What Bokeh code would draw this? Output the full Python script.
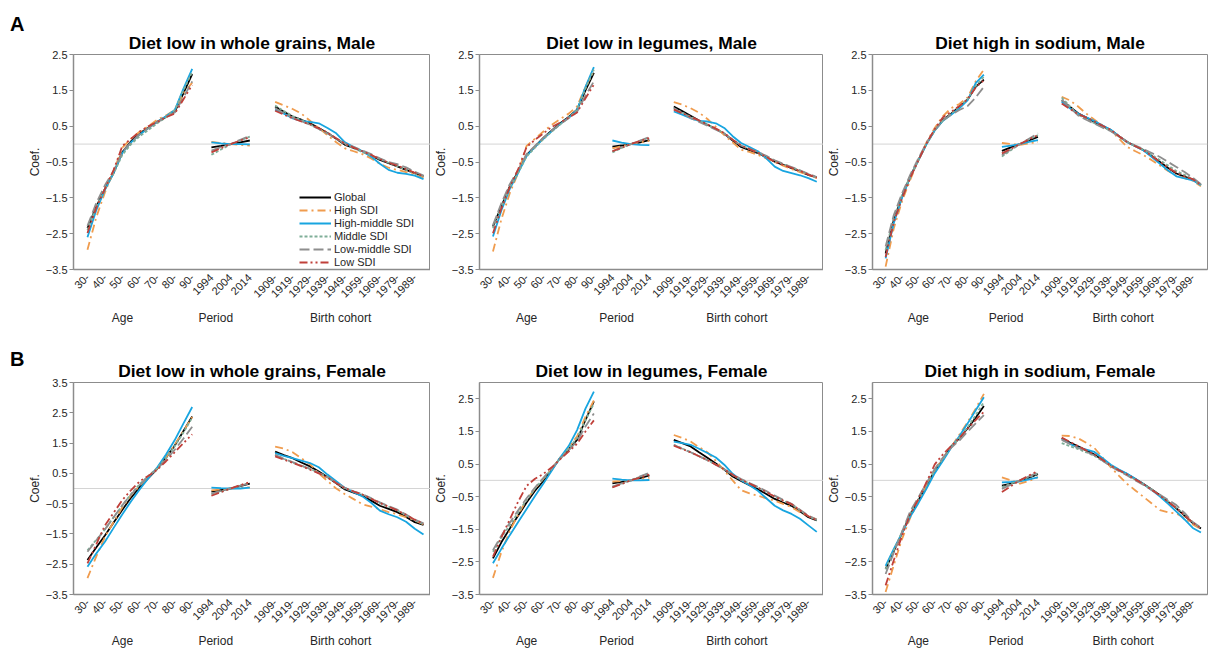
import math
from bokeh.plotting import figure
from bokeh.models import FixedTicker, Range1d, Span, Legend, LegendItem, LinearAxis, Div
from bokeh.layouts import column, row
from bokeh.embed import file_html
from bokeh.resources import INLINE

# ---------------- categories / tick labels ----------------
ages = [30, 35, 40, 45, 50, 55, 60, 65, 70, 75, 80, 85, 90]
age_labels = {30: "30-", 40: "40-", 50: "50-", 60: "60-", 70: "70-", 80: "80-", 90: "90-"}
periods = [1994, 1999, 2004, 2009, 2014]
period_labels = {1994: "1994", 2004: "2004", 2014: "2014"}
cohorts = [1909, 1914, 1919, 1924, 1929, 1934, 1939, 1944, 1949, 1954, 1959, 1964, 1969, 1974, 1979, 1984, 1989, 1994]
cohort_labels = {1909: "1909-", 1919: "1919-", 1929: "1929-", 1939: "1939-", 1949: "1949-",
                 1959: "1959-", 1969: "1969-", 1979: "1979-", 1989: "1989-"}
group_names = ["Age", "Period", "Birth cohort"]
series_names = ["Global", "High SDI", "High-middle SDI", "Middle SDI", "Low-middle SDI", "Low SDI"]

# ---------------- data: 13 age + 5 period + 18 cohort values per series ----------------
# Diet low in whole grains, Male
wg_m_global  = [-2.35,-1.75,-1.25,-0.80,-0.22,0.08,0.30,0.46,0.62,0.76,0.90,1.42,1.95, -0.09,-0.05,0.00,0.05,0.10, 1.05,0.90,0.77,0.68,0.58,0.45,0.31,0.15,-0.02,-0.11,-0.20,-0.32,-0.44,-0.53,-0.62,-0.72,-0.81,-0.90]
wg_m_high    = [-2.95,-2.05,-1.35,-0.75,-0.10,0.15,0.35,0.50,0.68,0.80,0.95,1.40,1.72, 0.06,0.03,0.00,-0.02,-0.04, 1.18,1.08,0.98,0.85,0.65,0.45,0.25,0.05,-0.12,-0.20,-0.28,-0.40,-0.55,-0.66,-0.72,-0.78,-0.85,-0.93]
wg_m_highmid = [-2.60,-1.85,-1.28,-0.80,-0.25,0.05,0.27,0.45,0.62,0.78,0.95,1.55,2.10, 0.05,0.02,0.00,0.00,-0.01, 0.96,0.85,0.72,0.65,0.62,0.58,0.45,0.30,0.05,-0.08,-0.20,-0.35,-0.55,-0.72,-0.80,-0.83,-0.88,-0.98]
wg_m_middle  = [-2.40,-1.75,-1.25,-0.82,-0.30,0.00,0.22,0.40,0.58,0.75,0.95,1.50,2.02, -0.30,-0.15,-0.01,0.10,0.21, 1.08,0.92,0.78,0.67,0.55,0.42,0.30,0.15,0.00,-0.12,-0.22,-0.32,-0.42,-0.52,-0.62,-0.72,-0.82,-0.92]
wg_m_lowmid  = [-2.28,-1.65,-1.15,-0.75,-0.22,0.05,0.28,0.45,0.62,0.75,0.88,1.30,1.75, -0.18,-0.08,0.00,0.12,0.23, 1.00,0.86,0.74,0.64,0.54,0.42,0.30,0.15,0.02,-0.08,-0.18,-0.28,-0.40,-0.50,-0.56,-0.65,-0.77,-0.88]
wg_m_low     = [-2.48,-1.78,-1.25,-0.72,-0.05,0.15,0.35,0.50,0.62,0.75,0.85,1.25,1.65, -0.23,-0.11,0.00,0.10,0.19, 0.93,0.82,0.72,0.63,0.55,0.44,0.32,0.16,0.01,-0.10,-0.20,-0.30,-0.42,-0.52,-0.60,-0.70,-0.80,-0.90]

# Diet low in legumes, Male
lg_m_global  = [-2.30,-1.74,-1.18,-0.76,-0.30,-0.07,0.17,0.38,0.58,0.76,0.96,1.50,1.99, -0.07,-0.04,0.00,0.05,0.11, 1.05,0.92,0.79,0.66,0.54,0.42,0.29,0.10,-0.08,-0.17,-0.25,-0.37,-0.49,-0.58,-0.67,-0.76,-0.86,-0.93]
lg_m_high    = [-3.00,-2.10,-1.37,-0.80,-0.05,0.15,0.35,0.54,0.70,0.85,1.05,1.60,2.03, -0.12,-0.06,0.00,0.05,0.09, 1.17,1.10,1.00,0.88,0.70,0.48,0.25,0.05,-0.16,-0.22,-0.30,-0.40,-0.50,-0.60,-0.70,-0.78,-0.86,-0.95]
lg_m_highmid = [-2.58,-1.85,-1.25,-0.80,-0.33,-0.08,0.15,0.36,0.56,0.74,0.95,1.60,2.15, 0.10,0.04,0.00,-0.02,-0.03, 0.91,0.82,0.72,0.65,0.63,0.58,0.45,0.22,0.03,-0.08,-0.20,-0.40,-0.63,-0.75,-0.81,-0.87,-0.95,-1.05]
lg_m_middle  = [-2.35,-1.75,-1.20,-0.80,-0.35,-0.10,0.14,0.35,0.55,0.74,0.95,1.55,2.08, -0.23,-0.11,0.00,0.09,0.18, 1.00,0.88,0.76,0.65,0.54,0.42,0.30,0.12,-0.04,-0.14,-0.24,-0.35,-0.47,-0.56,-0.65,-0.74,-0.84,-0.94]
lg_m_lowmid  = [-2.26,-1.65,-1.12,-0.72,-0.28,-0.05,0.18,0.38,0.56,0.72,0.90,1.35,1.75, -0.20,-0.10,0.00,0.10,0.20, 1.00,0.86,0.73,0.62,0.51,0.40,0.29,0.12,-0.04,-0.13,-0.22,-0.33,-0.45,-0.55,-0.64,-0.73,-0.83,-0.92]
lg_m_low     = [-2.49,-1.80,-1.20,-0.70,-0.08,0.12,0.30,0.48,0.60,0.74,0.88,1.28,1.66, -0.20,-0.10,0.00,0.09,0.17, 0.96,0.86,0.76,0.66,0.55,0.43,0.31,0.12,-0.04,-0.14,-0.24,-0.36,-0.49,-0.58,-0.66,-0.75,-0.85,-0.94]

# Diet high in sodium, Male
na_m_global  = [-3.05,-2.12,-1.47,-0.91,-0.45,0.02,0.39,0.67,0.85,1.04,1.24,1.60,1.80, -0.19,-0.09,0.00,0.10,0.20, 1.22,1.04,0.86,0.74,0.62,0.50,0.39,0.22,0.06,-0.06,-0.17,-0.33,-0.50,-0.67,-0.82,-0.91,-0.99,-1.15]
na_m_high    = [-3.42,-2.35,-1.60,-1.00,-0.45,0.05,0.45,0.78,1.00,1.12,1.30,1.75,2.08, 0.03,0.00,-0.02,0.02,0.06, 1.32,1.22,1.05,0.85,0.68,0.52,0.38,0.15,-0.08,-0.20,-0.31,-0.45,-0.60,-0.75,-0.88,-0.95,-1.02,-1.18]
na_m_highmid = [-3.19,-2.20,-1.50,-0.92,-0.45,0.00,0.38,0.65,0.82,1.00,1.22,1.70,1.94, -0.08,-0.04,0.00,0.06,0.11, 1.18,1.00,0.85,0.75,0.64,0.52,0.40,0.22,0.05,-0.06,-0.18,-0.36,-0.55,-0.74,-0.90,-0.96,-1.01,-1.15]
na_m_middle  = [-2.96,-2.05,-1.42,-0.90,-0.45,0.00,0.38,0.66,0.85,1.05,1.25,1.62,1.88, -0.35,-0.17,0.00,0.13,0.25, 1.30,1.05,0.82,0.70,0.58,0.47,0.37,0.21,0.06,-0.06,-0.16,-0.30,-0.45,-0.60,-0.75,-0.86,-0.98,-1.15]
na_m_lowmid  = [-2.86,-1.98,-1.38,-0.86,-0.40,0.04,0.40,0.66,0.82,0.95,1.06,1.30,1.60, -0.31,-0.15,0.00,0.15,0.30, 1.24,1.02,0.80,0.68,0.57,0.46,0.36,0.21,0.07,-0.04,-0.14,-0.25,-0.36,-0.50,-0.64,-0.78,-0.94,-1.12]
na_m_low     = [-3.15,-2.18,-1.52,-0.95,-0.46,0.02,0.42,0.75,0.90,1.06,1.25,1.58,1.78, -0.26,-0.13,0.00,0.13,0.25, 1.13,0.98,0.84,0.74,0.63,0.51,0.40,0.22,0.05,-0.06,-0.17,-0.33,-0.50,-0.66,-0.80,-0.90,-0.98,-1.14]

# Diet low in whole grains, Female
wg_f_global  = [-2.36,-1.95,-1.55,-1.12,-0.70,-0.30,0.05,0.35,0.65,1.02,1.42,1.90,2.38, -0.10,-0.05,0.00,0.08,0.16, 1.22,1.10,1.00,0.86,0.73,0.56,0.38,0.17,-0.03,-0.14,-0.24,-0.40,-0.57,-0.67,-0.78,-0.94,-1.11,-1.20]
wg_f_high    = [-2.96,-2.25,-1.60,-1.10,-0.62,-0.22,0.10,0.38,0.66,1.02,1.45,1.90,2.36, -0.06,-0.03,0.00,0.02,0.04, 1.38,1.32,1.20,1.00,0.80,0.50,0.25,0.00,-0.19,-0.35,-0.52,-0.60,-0.68,-0.78,-0.85,-0.95,-1.05,-1.18]
wg_f_highmid = [-2.58,-2.15,-1.76,-1.30,-0.85,-0.42,-0.02,0.35,0.70,1.12,1.60,2.15,2.69, 0.03,0.01,0.00,0.00,0.03, 1.17,1.08,1.00,0.92,0.84,0.70,0.46,0.24,0.02,-0.12,-0.26,-0.47,-0.73,-0.85,-0.95,-1.10,-1.33,-1.52]
wg_f_middle  = [-2.04,-1.70,-1.35,-0.95,-0.55,-0.18,0.15,0.42,0.68,1.00,1.40,1.85,2.34, -0.19,-0.10,0.00,0.10,0.19, 1.11,0.98,0.86,0.75,0.65,0.52,0.38,0.18,0.00,-0.10,-0.20,-0.33,-0.48,-0.60,-0.72,-0.88,-1.05,-1.18]
wg_f_lowmid  = [-2.09,-1.72,-1.35,-0.95,-0.55,-0.20,0.12,0.40,0.65,0.95,1.28,1.65,2.04, -0.17,-0.08,0.00,0.09,0.18, 1.11,0.98,0.87,0.76,0.65,0.52,0.38,0.20,0.02,-0.09,-0.19,-0.32,-0.46,-0.58,-0.70,-0.86,-1.03,-1.15]
wg_f_low     = [-2.47,-1.85,-1.22,-0.80,-0.38,-0.05,0.24,0.42,0.62,0.90,1.20,1.50,1.79, -0.24,-0.12,0.00,0.11,0.21, 1.06,0.95,0.85,0.74,0.62,0.50,0.36,0.18,0.01,-0.10,-0.20,-0.34,-0.48,-0.60,-0.72,-0.87,-1.03,-1.16]

# Diet low in legumes, Female
lg_f_global  = [-2.39,-1.90,-1.48,-1.08,-0.68,-0.32,-0.02,0.33,0.69,0.95,1.24,1.85,2.42, -0.09,-0.05,0.00,0.07,0.15, 1.24,1.14,1.04,0.86,0.69,0.52,0.33,0.12,-0.02,-0.15,-0.27,-0.42,-0.57,-0.68,-0.78,-0.95,-1.13,-1.23]
lg_f_high    = [-2.99,-2.20,-1.55,-1.05,-0.60,-0.25,0.05,0.35,0.70,1.00,1.35,1.95,2.45, -0.04,-0.02,0.00,0.04,0.08, 1.39,1.30,1.19,1.02,0.86,0.60,0.30,0.00,-0.30,-0.40,-0.47,-0.55,-0.62,-0.72,-0.82,-0.98,-1.10,-1.20]
lg_f_highmid = [-2.54,-2.10,-1.68,-1.28,-0.88,-0.48,-0.10,0.30,0.70,1.05,1.54,2.20,2.72, 0.05,0.02,0.00,0.00,0.01, 1.19,1.14,1.09,0.97,0.84,0.70,0.48,0.20,0.00,-0.15,-0.32,-0.55,-0.78,-0.92,-1.03,-1.18,-1.38,-1.58]
lg_f_middle  = [-2.19,-1.75,-1.38,-0.98,-0.60,-0.25,0.05,0.36,0.68,0.98,1.30,1.85,2.35, -0.20,-0.10,0.00,0.11,0.21, 1.09,0.98,0.86,0.74,0.62,0.48,0.34,0.16,0.02,-0.10,-0.22,-0.36,-0.50,-0.62,-0.74,-0.92,-1.10,-1.22]
lg_f_lowmid  = [-2.14,-1.70,-1.30,-0.92,-0.55,-0.22,0.08,0.38,0.66,0.92,1.20,1.65,2.05, -0.19,-0.09,0.00,0.12,0.23, 1.09,0.97,0.86,0.74,0.62,0.48,0.34,0.18,0.04,-0.08,-0.20,-0.33,-0.47,-0.60,-0.72,-0.90,-1.08,-1.20]
lg_f_low     = [-2.34,-1.75,-1.20,-0.65,-0.17,0.05,0.20,0.40,0.65,0.88,1.12,1.50,1.84, -0.22,-0.11,0.00,0.09,0.18, 1.06,0.96,0.86,0.74,0.62,0.48,0.34,0.17,0.02,-0.10,-0.22,-0.36,-0.50,-0.62,-0.73,-0.92,-1.10,-1.22]

# Diet high in sodium, Female
na_f_global  = [-2.72,-2.17,-1.62,-1.06,-0.61,-0.16,0.29,0.64,1.04,1.29,1.59,1.92,2.28, -0.16,-0.10,-0.02,0.08,0.19, 1.29,1.16,1.04,0.92,0.79,0.62,0.44,0.31,0.19,0.04,-0.11,-0.28,-0.46,-0.66,-0.86,-1.08,-1.31,-1.48]
na_f_high    = [-3.42,-2.60,-1.80,-1.15,-0.65,-0.15,0.30,0.68,1.02,1.40,1.78,2.20,2.65, 0.09,0.00,-0.10,-0.02,0.10, 1.37,1.36,1.29,1.15,0.99,0.70,0.40,0.14,-0.11,-0.31,-0.51,-0.71,-0.91,-0.98,-1.02,-1.15,-1.35,-1.50]
na_f_highmid = [-2.62,-2.10,-1.62,-1.12,-0.70,-0.25,0.22,0.60,1.00,1.35,1.74,2.15,2.55, -0.06,-0.05,-0.03,0.03,0.09, 1.27,1.12,1.00,0.94,0.87,0.68,0.48,0.33,0.20,0.05,-0.12,-0.30,-0.50,-0.72,-0.96,-1.20,-1.46,-1.60]
na_f_middle  = [-2.72,-2.15,-1.58,-1.02,-0.58,-0.12,0.32,0.66,1.02,1.30,1.62,2.00,2.40, -0.21,-0.10,0.00,0.10,0.21, 1.14,1.05,0.96,0.86,0.75,0.60,0.45,0.30,0.16,0.02,-0.12,-0.28,-0.45,-0.64,-0.84,-1.05,-1.30,-1.48]
na_f_lowmid  = [-2.87,-2.22,-1.58,-0.95,-0.52,-0.08,0.35,0.70,1.00,1.22,1.49,1.75,2.00, -0.26,-0.13,0.00,0.12,0.24, 1.24,1.12,1.00,0.88,0.76,0.60,0.43,0.28,0.15,0.00,-0.14,-0.30,-0.44,-0.60,-0.76,-1.00,-1.28,-1.45]
na_f_low     = [-3.22,-2.45,-1.70,-1.05,-0.58,-0.05,0.49,0.80,1.05,1.30,1.58,1.85,2.10, -0.36,-0.18,0.00,0.15,0.29, 1.31,1.18,1.05,0.92,0.80,0.63,0.45,0.31,0.18,0.03,-0.12,-0.29,-0.47,-0.66,-0.85,-1.07,-1.30,-1.47]

panel_titles = ["Diet low in whole grains, Male", "Diet low in legumes, Male", "Diet high in sodium, Male",
                "Diet low in whole grains, Female", "Diet low in legumes, Female", "Diet high in sodium, Female"]
panel_letters = ["A", "B"]

# ---------------- styling ----------------
FONT = "Liberation Sans"
TEXT_COLOR = "#262626"
AXIS_COLOR = "#8c8c8c"
styles = [
    dict(color="#000000", dash="solid"),
    dict(color="#F09C4E", dash="8 4 2 4"),
    dict(color="#18A5E0", dash="solid"),
    dict(color="#7FAE98", dash="3 2"),
    dict(color="#8E8E8E", dash="10 4"),
    dict(color="#C0403A", dash="8 3 2 3 2 3"),
]

# slot positions along the shared x scale
age_x = [(a - 30) / 10.0 for a in ages]
per_x = [round(7.1 + (p - 1994) * 0.11, 4) for p in periods]
coh_x = [round(10.75 + (c - 1909) / 10.0, 4) for c in cohorts]
X_START, X_END = -0.8, 19.65

tick_pos, overrides = [], {}
for a, x in zip(ages, age_x):
    if a in age_labels:
        tick_pos.append(x); overrides[x] = age_labels[a]
for p, x in zip(periods, per_x):
    if p in period_labels:
        tick_pos.append(x); overrides[x] = period_labels[p]
for c, x in zip(cohorts, coh_x):
    if c in cohort_labels:
        tick_pos.append(x); overrides[x] = cohort_labels[c]
group_x = [2.0, 7.35, 14.5]
group_overrides = {gx: g for gx, g in zip(group_x, group_names)}


def make_panel(title, data, y_end, width, height, mb_l, mb_r, mb_t, mb_b,
               group_standoff, legend=False):
    p = figure(width=width, height=height, title=title,
               x_range=Range1d(X_START, X_END), y_range=Range1d(-3.5, y_end),
               output_backend="svg", toolbar_location=None,
               min_border_left=mb_l, min_border_right=mb_r,
               min_border_top=mb_t, min_border_bottom=mb_b)
    p.title.text_font = FONT
    p.title.text_font_size = "17.4px"
    p.title.text_font_style = "bold"
    p.title.text_color = "#000000"
    p.title.align = "center"
    p.title.standoff = 3
    p.xgrid.visible = False
    p.ygrid.visible = False
    p.outline_line_color = AXIS_COLOR
    p.outline_line_width = 1
    p.background_fill_color = "white"
    p.border_fill_color = "white"

    xa = p.xaxis[0]
    xa.ticker = FixedTicker(ticks=tick_pos)
    xa.major_label_overrides = overrides
    xa.major_label_orientation = math.pi / 4
    xa.major_tick_line_color = None
    xa.major_tick_out = 0
    xa.major_tick_in = 0
    xa.minor_tick_line_color = None
    xa.axis_line_color = AXIS_COLOR
    xa.axis_line_width = 1.5
    xa.major_label_text_font = FONT
    xa.major_label_text_font_size = "11px"
    xa.major_label_text_color = TEXT_COLOR
    xa.major_label_standoff = 6

    # group names (Age / Period / Birth cohort) as a second, line-less axis
    ga = LinearAxis(ticker=FixedTicker(ticks=group_x), major_label_overrides=group_overrides,
                    axis_line_color=None, major_tick_line_color=None, minor_tick_line_color=None,
                    major_tick_out=0, major_tick_in=0, minor_tick_out=0,
                    major_label_standoff=group_standoff, major_label_text_font=FONT,
                    major_label_text_font_size="12px", major_label_text_color=TEXT_COLOR)
    p.add_layout(ga, "below")

    yt = [v for v in [-3.5, -2.5, -1.5, -0.5, 0.5, 1.5, 2.5, 3.5] if v <= y_end + 1e-9]
    ya = p.yaxis[0]
    ya.ticker = FixedTicker(ticks=yt)
    ya.axis_label = "Coef."
    ya.axis_label_text_font = FONT
    ya.axis_label_text_font_size = "12px"
    ya.axis_label_text_font_style = "normal"
    ya.axis_label_text_color = TEXT_COLOR
    ya.axis_label_standoff = 1
    ya.major_label_text_font = FONT
    ya.major_label_text_font_size = "11px"
    ya.major_label_text_color = TEXT_COLOR
    ya.major_label_standoff = 2
    ya.major_tick_out = 4
    ya.major_tick_in = 0
    ya.major_tick_line_color = AXIS_COLOR
    ya.minor_tick_line_color = None
    ya.axis_line_color = AXIS_COLOR
    ya.axis_line_width = 1.5

    p.add_layout(Span(location=0, dimension="width", line_color="#d4d4d4",
                      line_width=1, level="underlay"))

    items = []
    for name, vals, st in zip(series_names, data, styles):
        kw = dict(line_color=st["color"], line_width=1.8, line_dash=st["dash"])
        r1 = p.line(age_x, vals[0:13], **kw)
        p.line(per_x, vals[13:18], **kw)
        p.line(coh_x, vals[18:36], **kw)
        items.append(LegendItem(label=name, renderers=[r1]))

    if legend:
        lg = Legend(items=items, location=(226, 1), orientation="vertical",
                    border_line_color=None, background_fill_alpha=0,
                    padding=0, margin=0, spacing=1,
                    glyph_width=32, glyph_height=12, label_height=12,
                    label_standoff=3, label_text_font=FONT,
                    label_text_font_size="11px", label_text_color=TEXT_COLOR)
        p.add_layout(lg)
    return p


LETTER_W = 24
A_H, A_T, A_B = 335, 54, 66
B_H, B_T, B_B = 315, 47, 53
# (figure width, min_border_left, min_border_right)
cols = [(406, 46, 0), (393, 46, 0), (385, 44, 1)]

rowA_data = [
    [wg_m_global, wg_m_high, wg_m_highmid, wg_m_middle, wg_m_lowmid, wg_m_low],
    [lg_m_global, lg_m_high, lg_m_highmid, lg_m_middle, lg_m_lowmid, lg_m_low],
    [na_m_global, na_m_high, na_m_highmid, na_m_middle, na_m_lowmid, na_m_low],
]
rowB_data = [
    [wg_f_global, wg_f_high, wg_f_highmid, wg_f_middle, wg_f_lowmid, wg_f_low],
    [lg_f_global, lg_f_high, lg_f_highmid, lg_f_middle, lg_f_lowmid, lg_f_low],
    [na_f_global, na_f_high, na_f_highmid, na_f_middle, na_f_lowmid, na_f_low],
]
rowB_yend = [3.5, 3.0, 3.0]

figsA, figsB = [], []
for i in range(3):
    w, l, r = cols[i]
    figsA.append(make_panel(panel_titles[i], rowA_data[i], 2.5, w, A_H, l, r, A_T, A_B,
                            group_standoff=6, legend=(i == 0)))
    figsB.append(make_panel(panel_titles[3 + i], rowB_data[i], rowB_yend[i], w, B_H, l, r, B_T, B_B,
                            group_standoff=4))

letter_style = {"font-family": FONT, "font-size": "20px", "font-weight": "bold",
                "color": "#000000", "padding-left": "10px", "padding-top": "13px",
                "line-height": "normal"}
divA = Div(text=panel_letters[0], width=LETTER_W, height=A_H, margin=0, styles=letter_style)
divB = Div(text=panel_letters[1], width=LETTER_W, height=B_H, margin=0, styles=letter_style)

layout = row(column(divA, divB), column(row(*figsA), row(*figsB)))
open("out.html", "w").write(file_html(layout, INLINE))
